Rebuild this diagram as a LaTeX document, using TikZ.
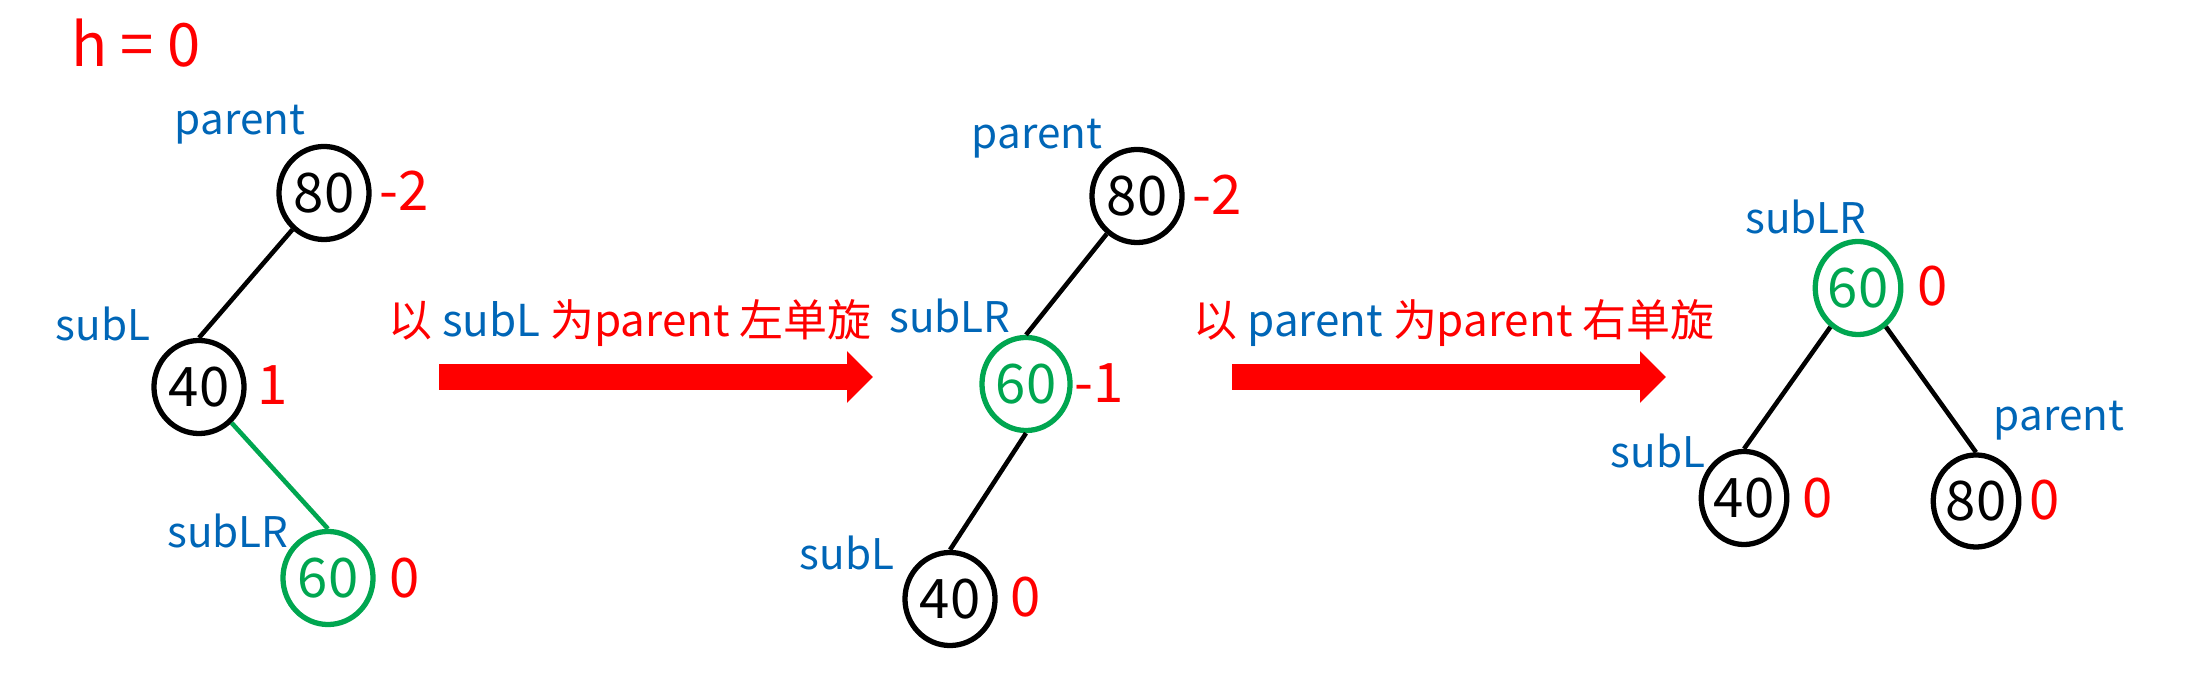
\documentclass[tikz,border=0pt]{standalone}
\usepackage{fontspec}
\setmainfont{Noto Sans CJK SC}
\usetikzlibrary{shapes.geometric,arrows.meta}
\definecolor{rotred}{RGB}{255,0,0}
\definecolor{tagblue}{RGB}{0,102,183}
\definecolor{lrgreen}{RGB}{0,166,80}

\begin{document}
\begin{tikzpicture}[x=0.01cm, y=-0.01cm,
    avl/.style 2 args={ellipse, draw, line width=1.5pt, inner sep=0pt,
        minimum width=#1, minimum height=#2, font=\fontsize{15.5}{18}\selectfont},
    lr/.style={draw=lrgreen, text=lrgreen},
    tag/.style={text=tagblue, font=\fontsize{12}{14}\selectfont},
    bf/.style={text=rotred, font=\fontsize{15.5}{18}\selectfont},
    note/.style={text=rotred, font=\fontsize{12.5}{15}\selectfont},
    link/.style={line width=1.3pt},
    rotarrow/.style={draw=rotred, line width=0.26cm,
        -{Triangle[length=0.26cm, width=0.5cm]}}]
    \useasboundingbox (0,0) rectangle (2192,689);

    \node[text=rotred, font=\fontsize{17}{20}\selectfont] (h) at (136,43) {h = 0};

    \node[tag] (atag80) at (240,125) {parent};
    \node[avl={0.9cm}{0.93cm}] (a80) at (324,193) {80};
    \node[bf] (abf80) at (404,191) {-2};
    \node[tag] (atag40) at (103,324) {subL};
    \node[avl={0.9cm}{0.93cm}] (a40) at (199,387) {40};
    \node[bf] (abf40) at (273,385) {1};
    \node[tag] (atag60) at (228,531) {subLR};
    \node[avl={0.9cm}{0.93cm}, lr] (a60) at (328,578) {60};
    \node[bf] (abf60) at (405,578) {0};
    \draw[link] (a80) -- (a40.north);
    \draw[link, draw=lrgreen] (a40) -- (a60.north);

    \node[note] (note1) at (630,323) {以 \textcolor{tagblue}{subL} 为parent 左单旋};
    \coordinate (rot1s) at (439,377);
    \coordinate (rot1e) at (873,377);
    \draw[rotarrow] (rot1s) -- (rot1e);

    \node[tag] (mtag80) at (1037,139) {parent};
    \node[avl={0.9cm}{0.93cm}] (m80) at (1137,196) {80};
    \node[bf] (mbf80) at (1217,195) {-2};
    \node[tag] (mtag60) at (950,316) {subLR};
    \node[avl={0.88cm}{0.93cm}, lr] (m60) at (1026,384) {60};
    \node[bf] (mbf60) at (1099,383) {-1};
    \node[tag] (mtag40) at (847,553) {subL};
    \node[avl={0.9cm}{0.93cm}] (m40) at (950,599) {40};
    \node[bf] (mbf40) at (1026,597) {0};
    \draw[link] (m80) -- (m60.north);
    \draw[link] (m60.south) -- (m40.north);

    \node[note] (note2) at (1454,323) {以 \textcolor{tagblue}{parent} 为parent 右单旋};
    \coordinate (rot2s) at (1232,377);
    \coordinate (rot2e) at (1666,377);
    \draw[rotarrow] (rot2s) -- (rot2e);

    \node[tag] (rtag60) at (1806,217) {subLR};
    \node[avl={0.84cm}{0.93cm}, lr] (r60) at (1858,288) {60};
    \node[bf] (rbf60) at (1933,286) {0};
    \node[tag] (rtag40) at (1658,451) {subL};
    \node[avl={0.84cm}{0.93cm}] (r40) at (1744,498) {40};
    \node[bf] (rbf40) at (1818,498) {0};
    \node[tag] (rtag80) at (2059,421) {parent};
    \node[avl={0.85cm}{0.92cm}] (r80) at (1976,501) {80};
    \node[bf] (rbf80) at (2045,500) {0};
    \draw[link] (r60) -- (r40.north);
    \draw[link] (r60) -- (r80.north);
\end{tikzpicture}
\end{document}
